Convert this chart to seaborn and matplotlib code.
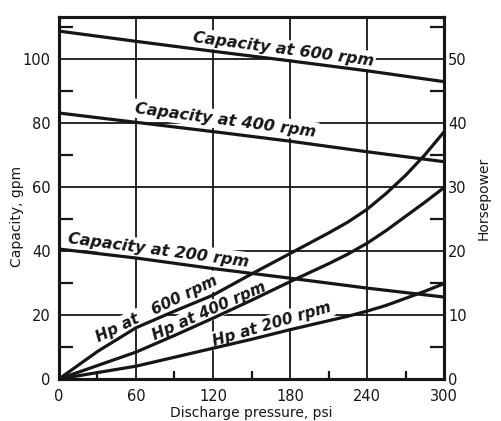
import matplotlib
matplotlib.use("Agg")
import matplotlib.pyplot as plt
import seaborn as sns

# capacity lines (gpm) read at the vertical grid lines
pressure = [0, 60, 120, 180, 240, 300]
cap_600 = [108.7, 105.5, 102.4, 99.4, 96.3, 92.9]
cap_400 = [83.1, 80.2, 77.3, 74.3, 71.0, 67.9]
cap_200 = [40.6, 37.8, 34.5, 31.5, 28.4, 25.6]

# horsepower curves (right axis)
hp_pressure = [0, 30, 60, 90, 120, 150, 180, 210, 225, 240, 255, 270, 285, 300]
hp_600 = [0, 4.3, 8.0, 10.6, 13.1, 16.4, 19.6, 22.8, 24.5, 26.5, 29.0, 31.8, 35.0, 38.6]
hp_400 = [0, 2.1, 4.2, 6.8, 9.5, 12.3, 15.2, 18.0, 19.5, 21.2, 23.2, 25.4, 27.6, 29.9]
hp_200 = [0, 1.0, 2.0, 3.4, 4.8, 6.2, 7.7, 9.1, 9.8, 10.6, 11.5, 12.6, 13.7, 14.9]

x_ticks = [0, 60, 120, 180, 240, 300]
gpm_ticks = [0, 20, 40, 60, 80, 100]
hp_ticks = [0, 10, 20, 30, 40, 50]

sns.set_style("white")
plt.rcParams['font.family'] = ['DejaVu Sans']

ink = '#161616'

fig = plt.figure(figsize=(5.02, 4.21), dpi=100)
ax = fig.add_axes([0.1175, 0.0998, 0.767, 0.8598])
ax2 = ax.twinx()

for vals in (cap_600, cap_400, cap_200):
    sns.lineplot(x=pressure, y=vals, ax=ax, color=ink, linewidth=2.3, zorder=3)
for vals in (hp_600, hp_400, hp_200):
    sns.lineplot(x=hp_pressure, y=vals, ax=ax2, color=ink, linewidth=2.3, zorder=3)

ax.set_xlim(0, 300)
ax.set_ylim(0, 113.1)
ax2.set_ylim(0, 113.1 / 2)

ax.set_xticks(x_ticks)
ax.set_yticks(gpm_ticks)
ax2.set_yticks(hp_ticks)
ax.set_xticks([30, 90, 150, 210, 270], minor=True)
ax.set_yticks([10, 30, 50, 70, 90, 110], minor=True)
ax2.set_yticks([5, 15, 25, 35, 45, 55], minor=True)

ax.grid(True, which='major', color=ink, linewidth=1.3)
ax.set_axisbelow(True)

ax.tick_params(which='major', length=0, labelsize=10.5, colors=ink)
ax.tick_params(axis='y', which='major', pad=6)
ax.tick_params(axis='x', which='major', pad=7)
ax.tick_params(which='minor', direction='in', width=1.6, color=ink)
ax.tick_params(axis='y', which='minor', length=10, left=True)
ax.tick_params(axis='x', which='minor', length=6, bottom=True)
ax2.tick_params(which='major', length=0, labelsize=10.5, pad=3, colors=ink)
ax2.tick_params(which='minor', direction='in', length=10, width=1.6, color=ink, right=True)

for a in (ax, ax2):
    for sp in a.spines.values():
        sp.set_linewidth(2.2)
        sp.set_color(ink)

ax.set_xlabel("Discharge pressure, psi", fontsize=10, color=ink, labelpad=2)
ax.set_ylabel("Capacity, gpm", fontsize=10, color=ink, labelpad=5)
ax2.set_ylabel("Horsepower", fontsize=10, color=ink, labelpad=7)
ax.yaxis.set_label_coords(-0.09, 0.45)

box = dict(facecolor='white', edgecolor='none', pad=1.5)
labels = [
    ("Capacity at 600 rpm", 174.6, 103.1, -7.5),
    ("Capacity at 400 rpm", 130, 80.9, -7.5),
    ("Capacity at 200 rpm", 77.2, 40.3, -7.5),
    ("Hp at   600 rpm", 76, 21.9, 26),
    ("Hp at 400 rpm", 117, 21.1, 24),
    ("Hp at 200 rpm", 166, 17.2, 16.5),
]
for txt, x, y, rot in labels:
    ax.text(x, y, txt, rotation=rot, rotation_mode='anchor', ha='center', va='center',
            fontsize=11.5 if txt.startswith("Cap") else 11, fontstyle='italic',
            fontweight='bold', color=ink, bbox=box, zorder=1.5)

fig.savefig("out.png", dpi=100)
